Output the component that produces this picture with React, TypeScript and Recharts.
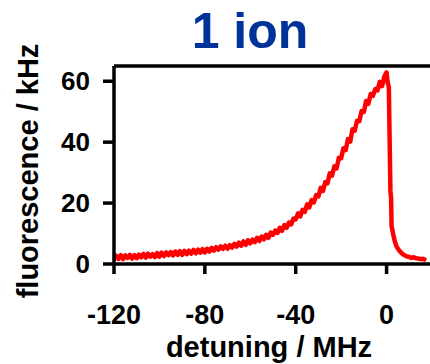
import React from 'react';
import {
  LineChart,
  Line,
  XAxis,
  YAxis,
  ReferenceLine,
  Label,
} from 'recharts';

// detuning in MHz, fluorescence in kHz
const detuning = [
  -120, -119, -118, -117, -116, -115, -114, -113, -112, -111,
  -110, -109, -108, -107, -106, -105, -104, -103, -102, -101,
  -100, -99, -98, -97, -96, -95, -94, -93, -92, -91,
  -90, -89, -88, -87, -86, -85, -84, -83, -82, -81,
  -80, -79, -78, -77, -76, -75, -74, -73, -72, -71,
  -70, -69, -68, -67, -66, -65, -64, -63, -62, -61,
  -60, -59, -58, -57, -56, -55, -54, -53, -52, -51,
  -50, -49, -48, -47, -46, -45, -44, -43, -42, -41,
  -40, -39, -38, -37, -36, -35, -34, -33, -32, -31,
  -30, -29, -28, -27, -26, -25, -24, -23, -22, -21,
  -20, -19, -18, -17, -16, -15, -14, -13, -12, -11,
  -10, -9, -8, -7, -6, -5, -4, -3, -2, -1,
  0, 0.5, 1.0, 1.7, 2.0, 2.2, 3.0, 3.6, 4.5, 5.7,
  7.0, 8.6, 10, 11, 12, 13, 14, 15, 16, 17.4,
];

const fluorescence = [
  1.4, 2.7, 1.7, 2.9, 1.6, 2.8, 2.0, 3.0, 1.8, 2.9,
  1.9, 3.1, 2.2, 3.3, 2.1, 3.4, 2.4, 3.2, 2.3, 3.6,
  2.4, 3.7, 2.6, 3.8, 2.9, 3.9, 2.8, 4.1, 3.0, 4.2,
  3.0, 4.3, 3.2, 4.4, 3.4, 4.6, 3.5, 4.7, 3.7, 4.9,
  3.8, 5.0, 4.1, 5.3, 4.4, 5.5, 4.7, 5.8, 5.0, 6.0,
  5.0, 6.2, 5.4, 6.6, 5.7, 7.0, 6.0, 7.4, 6.3, 7.8,
  6.8, 8.0, 7.2, 8.6, 7.6, 9.0, 8.1, 9.6, 8.6, 10.3,
  9.6, 11.0, 10.2, 11.9, 10.9, 12.8, 11.9, 13.6, 13.0, 14.9,
  14.6, 16.6, 15.6, 17.8, 17.1, 19.6, 18.6, 21.0, 20.2, 22.6,
  22.2, 25.0, 24.0, 26.9, 26.5, 29.8, 29.0, 32.1, 31.4, 34.9,
  34.7, 38.0, 37.4, 41.0, 40.2, 44.2, 43.8, 47.0, 46.9, 50.2,
  49.9, 53.5, 52.6, 55.8, 55.2, 57.4, 57.0, 59.8, 58.4, 61.5,
  62.9, 59.5, 58.0, 24.0, 21.5, 12.5, 9.5, 7.5, 5.6, 4.3,
  3.3, 2.6, 2.3, 2.0, 2.2, 1.9, 1.8, 1.6, 1.7, 1.2,
];

const xTicks = [-120, -80, -40, 0];
const yTicks = [0, 20, 40, 60];

const data = detuning.map((d, i) => ({ detuning: d, fluorescence: fluorescence[i] }));

const font = '"Liberation Sans", Arial, sans-serif';

const XTitle = ({ viewBox }: any) => (
  <text
    x={viewBox.x + viewBox.width / 2 - 4}
    y={viewBox.y + 93}
    textAnchor="middle"
    fontFamily={font}
    fontWeight="bold"
    fontSize={29}
    fill="#000"
  >
    detuning / MHz
  </text>
);

const YTitle = ({ viewBox }: any) => {
  const cx = 38;
  const cy = viewBox.y + 105;
  return (
    <text
      x={cx}
      y={cy}
      transform={`rotate(-90, ${cx}, ${cy})`}
      textAnchor="middle"
      fontFamily={font}
      fontWeight="bold"
      fontSize={29}
      fill="#000"
    >
      fluorescence / kHz
    </text>
  );
};

const App = () => {
  return (
    <div style={{ position: 'absolute', left: 0, top: 0, width: 430, height: 364, overflow: 'hidden', background: '#fff' }}>
      <div
        style={{
          position: 'absolute',
          left: 150,
          top: 6,
          width: 200,
          textAlign: 'center',
          fontFamily: font,
          fontWeight: 'bold',
          fontSize: 50,
          lineHeight: '50px',
          color: '#003399',
        }}
      >
        1 ion
      </div>
      <LineChart
        width={440}
        height={364}
        data={data}
        margin={{ top: 66, right: 8, bottom: 0, left: 0 }}
      >
        <XAxis
          dataKey="detuning"
          type="number"
          domain={[-120, 20]}
          ticks={xTicks}
          allowDataOverflow
          height={100}
          axisLine={{ stroke: '#000', strokeWidth: 3.5 }}
          tickLine={{ stroke: '#000', strokeWidth: 3.5 }}
          tickSize={10}
          tickMargin={31}
          tick={{ fill: '#000', fontSize: 27, fontWeight: 'bold', fontFamily: font }}
        >
          <Label content={XTitle} />
        </XAxis>
        <YAxis
          type="number"
          domain={[0, 65]}
          ticks={yTicks}
          width={114}
          axisLine={{ stroke: '#000', strokeWidth: 3.5 }}
          tickLine={{ stroke: '#000', strokeWidth: 3.5 }}
          tickSize={11}
          tickMargin={13}
          tick={{ fill: '#000', fontSize: 26, fontWeight: 'bold', fontFamily: font }}
        >
          <Label content={YTitle} />
        </YAxis>
        <ReferenceLine y={65} stroke="#000" strokeWidth={3.5} />
        <Line
          type="linear"
          dataKey="fluorescence"
          stroke="#ff0000"
          strokeWidth={4.5}
          strokeLinejoin="round"
          dot={false}
          activeDot={false}
          isAnimationActive={false}
        />
      </LineChart>
    </div>
  );
};

export default App;
